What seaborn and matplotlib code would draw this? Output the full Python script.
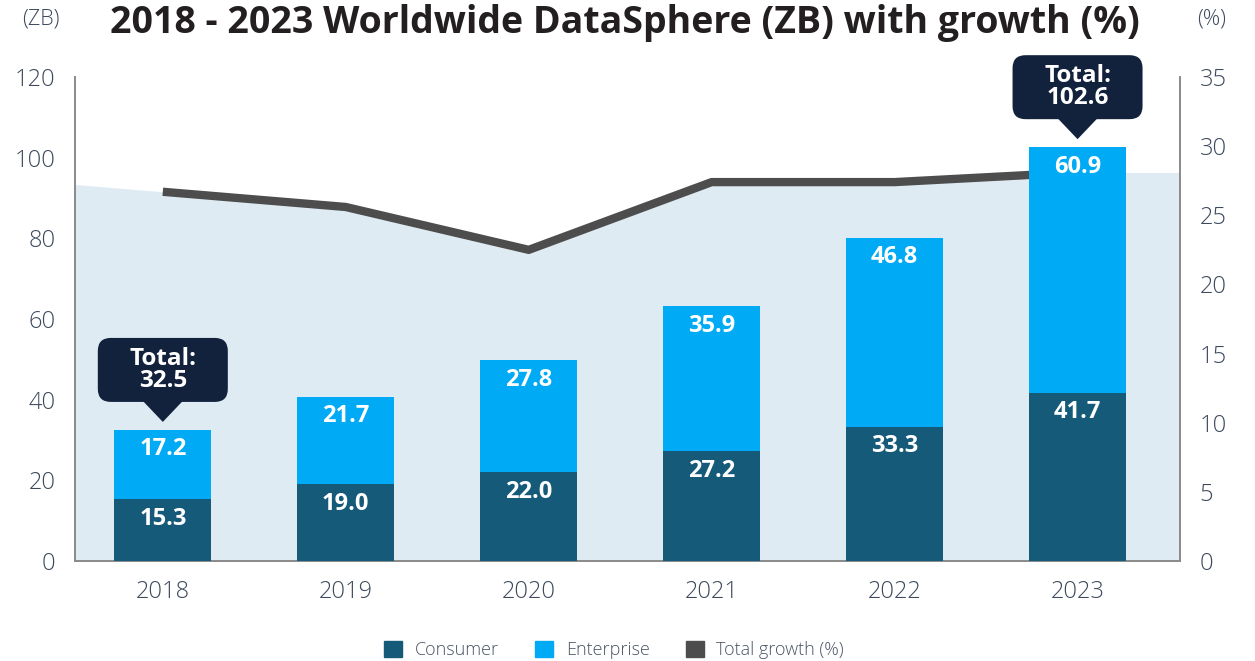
import numpy as np
import pandas as pd
import matplotlib
matplotlib.use("Agg")
import matplotlib.pyplot as plt
import seaborn as sns
from matplotlib.patches import FancyBboxPatch, Polygon, Patch
from matplotlib.transforms import ScaledTranslation

# ---- data ----
years = ["2018", "2019", "2020", "2021", "2022", "2023"]
consumer = [15.3, 19.0, 22.0, 27.2, 33.3, 41.7]
enterprise = [17.2, 21.7, 27.8, 35.9, 46.8, 60.9]
growth = [26.7, 25.6, 22.5, 27.4, 27.4, 28.1]
callout_years = ["2018", "2023"]
left_ticks = [0, 20, 40, 60, 80, 100, 120]
right_ticks = [0, 5, 10, 15, 20, 25, 30, 35]

# ---- style ----
C_CONS = "#165a7a"
C_ENT = "#00aaf5"
C_LINE = "#4d4d4d"
C_AREA = "#deebf3"
C_NAVY = "#12223c"
C_TICK = "#3d4a5c"
C_SPINE = "#8a8a8a"

sns.set_theme(style="white")
plt.rcParams["font.family"] = ["Open Sans", "DejaVu Sans"]

totals = [c + e for c, e in zip(consumer, enterprise)]
df = pd.DataFrame({"year": years, "consumer": consumer,
                   "enterprise": enterprise, "total": totals, "growth": growth})

W, H = 1255, 661
fig = plt.figure(figsize=(W / 100, H / 100), dpi=100)
ax = fig.add_axes([75 / W, 100 / H, 1105 / W, 484 / H])
ax2 = ax.twinx()
ax.set_zorder(2)
ax.patch.set_visible(False)
ax2.set_zorder(1)

# stacked bars: total in enterprise colour, consumer overlaid
sns.barplot(data=df, x="year", y="total", color=C_ENT, saturation=1,
            width=0.53, ax=ax, zorder=3, linewidth=0, edgecolor="none")
sns.barplot(data=df, x="year", y="consumer", color=C_CONS, saturation=1,
            width=0.53, ax=ax, zorder=4, linewidth=0, edgecolor="none")

xl = (-0.48, 5.56)
ax.set_xlim(*xl)
ax.set_ylim(0, 120)

# growth area + line on right axis
xi = np.arange(len(years))
slope0 = growth[1] - growth[0]
x_area = np.concatenate([[xl[0]], xi, [xl[1]]])
y_area = np.concatenate([[growth[0] + slope0 * (xl[0] - 0)], growth, [growth[-1]]])
ax2.fill_between(x_area, 0, y_area, color=C_AREA, lw=0, zorder=1)
sns.lineplot(x=xi, y=growth, ax=ax2, color=C_LINE, lw=6, zorder=2,
             solid_joinstyle="round", solid_capstyle="butt")
ax2.set_ylim(0, 35)
ax2.set_xlim(*xl)

# value labels
for i in range(len(years)):
    ax.annotate(f"{enterprise[i]:.1f}", (i, totals[i]), xytext=(0, -14),
                textcoords="offset points", ha="center", va="center",
                color="white", fontsize=17, fontweight="bold", zorder=6)
    ax.annotate(f"{consumer[i]:.1f}", (i, consumer[i]), xytext=(0, -14),
                textcoords="offset points", ha="center", va="center",
                color="white", fontsize=17, fontweight="bold", zorder=6)

# callouts
for y in callout_years:
    i = years.index(y)
    trans = fig.dpi_scale_trans + ScaledTranslation(i, totals[i], ax.transData)
    box = FancyBboxPatch((-0.65, 0.28), 1.30, 0.64,
                         boxstyle="round,pad=0,rounding_size=0.13",
                         transform=trans, fc=C_NAVY, ec="none",
                         clip_on=False, zorder=7)
    tri = Polygon([(-0.2, 0.29), (0.2, 0.29), (0, 0.08)], closed=True,
                  transform=trans, fc=C_NAVY, ec="none", clip_on=False, zorder=7)
    ax.add_artist(box)
    ax.add_artist(tri)
    ax.text(0, 0.60, f"Total:\n{totals[i]:.1f}", transform=trans,
            ha="center", va="center", color="white", fontsize=17.5,
            fontweight="bold", linespacing=0.92, zorder=8)

# axes styling
ax.set_yticks(left_ticks)
ax2.set_yticks(right_ticks)
ax.set_xlabel("")
ax.set_ylabel("")
ax2.set_ylabel("")
ax.tick_params(axis="y", length=0, pad=14, labelsize=17, labelcolor=C_TICK)
ax.tick_params(axis="x", length=0, pad=14, labelsize=17, labelcolor=C_TICK)
ax2.tick_params(axis="y", length=0, pad=14, labelsize=17, labelcolor=C_TICK)
for lab in ax.get_xticklabels() + ax.get_yticklabels() + ax2.get_yticklabels():
    lab.set_fontweight("light")
for a in (ax, ax2):
    a.spines["top"].set_visible(False)
    for s in ("left", "right", "bottom"):
        a.spines[s].set_visible(True)
        a.spines[s].set_color(C_SPINE)
        a.spines[s].set_linewidth(1.2)
ax.grid(False)
ax2.grid(False)

# texts
fig.text(625 / W, 1 - 23 / H, "2018 - 2023 Worldwide DataSphere (ZB) with growth (%)",
         ha="center", va="center", fontsize=27, fontweight="bold", color="#231f20")
fig.text(41 / W, 1 - 19 / H, "(ZB)", ha="center", va="center", fontsize=15.5,
         fontweight="light", color=C_TICK)
fig.text(1212 / W, 1 - 19 / H, "(%)", ha="center", va="center", fontsize=15.5,
         fontweight="light", color=C_TICK)

handles = [Patch(color=C_CONS, label="Consumer"),
           Patch(color=C_ENT, label="Enterprise"),
           Patch(color=C_LINE, label="Total growth (%)")]
leg = fig.legend(handles=handles, loc="center", bbox_to_anchor=(614 / W, 1 - 650 / H),
                 ncol=3, frameon=False, fontsize=13, handlelength=1.0,
                 handleheight=1.0, handletextpad=0.7, columnspacing=2.0)
for t in leg.get_texts():
    t.set_color("#4a5566")
    t.set_fontweight("light")

fig.savefig("out.png", dpi=100)
